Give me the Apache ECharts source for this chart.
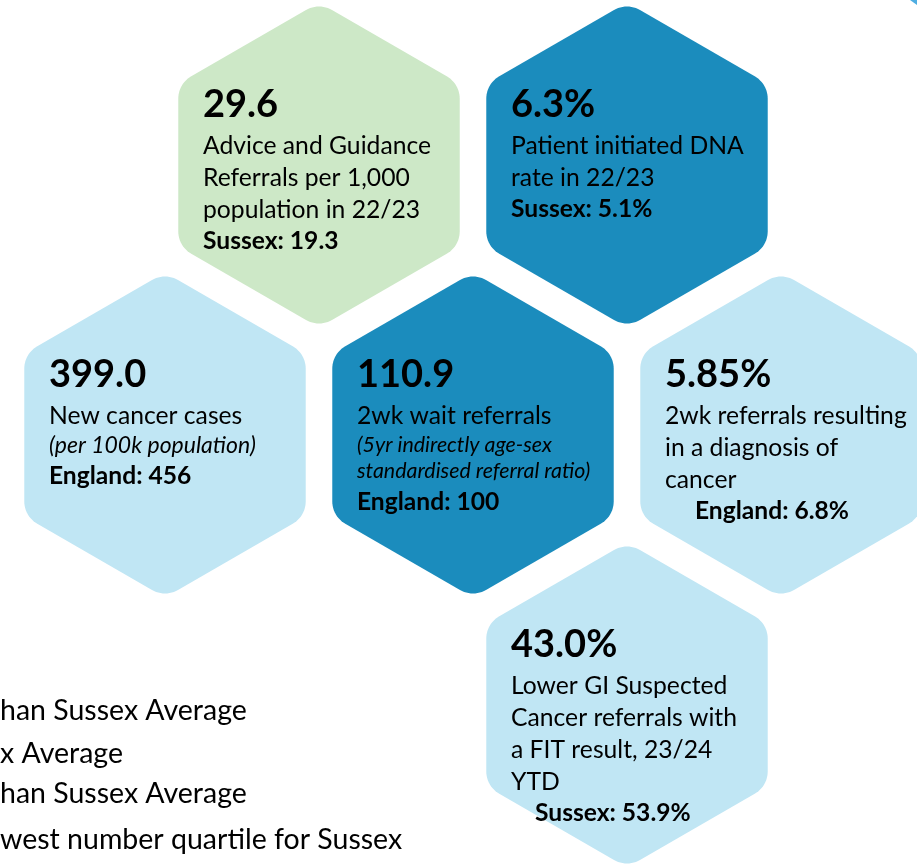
<!DOCTYPE html>
<html>
<head>
<meta charset="utf-8">
<script src="https://cdn.jsdelivr.net/npm/echarts@6/dist/echarts.min.js"></script>
<style>
  html, body { margin: 0; padding: 0; background: #fff; }
  #chart { width: 917px; height: 865px; }
</style>
</head>
<body>
<div id="chart"></div>
<script>
// headline figure of each hexagon
var values = ['29.6', '6.3%', '399.0', '110.9', '5.85%', '43.0%'];
var descriptions = [
  ['Advice and Guidance', 'Referrals per 1,000', 'population in 22/23'],
  ['Patient initiated DNA', 'rate in 22/23'],
  ['New cancer cases'],
  ['2wk wait referrals'],
  ['2wk referrals resulting', 'in a diagnosis of', 'cancer'],
  ['Lower GI Suspected', 'Cancer referrals with', 'a FIT result, 23/24', 'YTD']
];
var notes = [[], [], ['(per 100k population)'], ['(5yr indirectly age-sex', 'standardised referral ratio)'], [], []];
var benchmarks = ['Sussex: 19.3', 'Sussex: 5.1%', 'England: 456', 'England: 100', 'England: 6.8%', 'Sussex: 53.9%'];
var bands = ['A', 'B', 'C', 'B', 'C', 'C'];
var legendLines = ['han Sussex Average', 'x Average', 'han Sussex Average', 'west number quartile for Sussex'];

// layout: hex slot (column, row), benchmark indent, note font size
var cells = [[0.5, 0], [1.5, 0], [0, 1], [1, 1], [2, 1], [1.5, 2]];
var benchIndent = [0, 0, 0, 0, 30, 24];
var noteSize = [21, 21, 23, 21.4, 21, 21];

var bandColors = { A: '#CDE8C7', B: '#1B8CBD', C: '#C0E6F4' };
var FONT = 'Lato, "Open Sans", sans-serif';
var HEX_R = 162.5, CORNER_R = 26;
var TEXT_DX = -116;
var MID = 0.253; // canvas 'middle' sits half an x-height above the baseline
var sizes = { value: 38, body: 24.7, bench: 24.6 };

// rounded hexagon, pointy top
function hexPoints(cx, cy, R, r) {
  var pts = [];
  var inner = R - r / Math.cos(Math.PI / 6);
  for (var k = 0; k < 6; k++) {
    var a0 = (-90 + 60 * k) * Math.PI / 180;
    var ax = cx + inner * Math.cos(a0), ay = cy + inner * Math.sin(a0);
    for (var s = -6; s <= 6; s++) {
      var a = a0 + s * (Math.PI / 6) / 6;
      pts.push([ax + r * Math.cos(a), ay + r * Math.sin(a)]);
    }
  }
  return pts;
}

function textEl(x, baseline, str, size, weight) {
  return {
    type: 'text',
    x: x,
    y: baseline - MID * size,
    style: {
      text: str, font: weight + ' ' + size + 'px ' + FONT, fill: '#000',
      align: 'left', textAlign: 'left',
      verticalAlign: 'middle', textVerticalAlign: 'middle'
    }
  };
}

function renderItem(params, api) {
  var i = params.dataIndex;
  var c = api.coord([api.value(0), api.value(1)]);
  var children = [{
    type: 'polygon',
    shape: { points: hexPoints(c[0], c[1], HEX_R, CORNER_R) },
    style: { fill: bandColors[bands[i]] }
  }];
  var x = c[0] + TEXT_DX;
  children.push(textEl(x, c[1] - 51, values[i], sizes.value, 'bold'));
  var y = c[1] - 13, prev = null;
  descriptions[i].forEach(function (t) {
    if (prev) y += 32;
    children.push(textEl(x, y, t, sizes.body, 'normal'));
    prev = 'body';
  });
  notes[i].forEach(function (t) {
    y += prev === 'note' ? 26 : 29;
    children.push(textEl(x, y, t, noteSize[i], 'italic'));
    prev = 'note';
  });
  y += 31;
  children.push(textEl(x + benchIndent[i], y, benchmarks[i], sizes.bench, 'bold'));
  return { type: 'group', children: children };
}

var legendBaselines = [718, 761, 801, 847];
var graphics = legendLines.map(function (t, i) {
  return {
    type: 'text', x: 0, y: legendBaselines[i] - MID * 28.5,
    style: { text: t, font: '28.5px ' + FONT, fill: '#000', verticalAlign: 'middle', textVerticalAlign: 'middle' }
  };
});
graphics.push({ type: 'polygon', shape: { points: [[910, 0], [917, 0], [917, 5]] }, style: { fill: '#4FAEE2' } });

var chart = echarts.init(document.getElementById('chart'));
chart.setOption({
  animation: false,
  grid: { left: 165, top: 165, width: 616, height: 540, show: false },
  xAxis: { type: 'value', min: 0, max: 2, show: false },
  yAxis: { type: 'value', min: 0, max: 2, inverse: true, show: false },
  graphic: graphics,
  series: [{
    type: 'custom',
    clip: false,
    silent: true,
    renderItem: renderItem,
    data: cells.map(function (c, i) { return [c[0], c[1], i]; })
  }]
});
</script>
</body>
</html>
